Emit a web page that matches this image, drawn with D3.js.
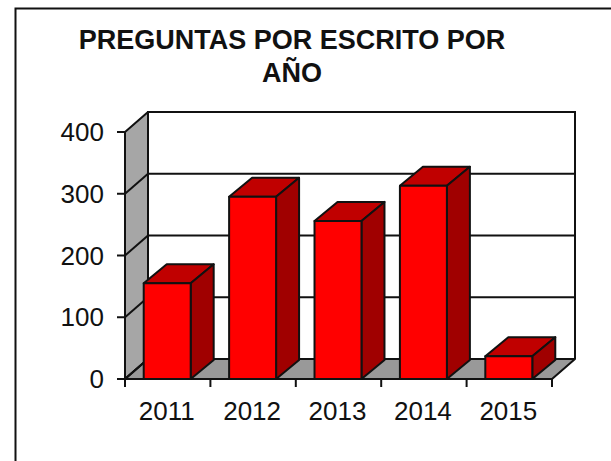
<!DOCTYPE html>
<html><head><meta charset="utf-8">
<script src="https://cdn.jsdelivr.net/npm/d3@7"></script>
<style>html,body{margin:0;padding:0;background:#fff}svg{display:block}text{font-family:"Liberation Sans",Arial,sans-serif;fill:#111}</style>
</head><body><svg id="c" width="611" height="461"></svg>
<script>
const categories = ["2011","2012","2013","2014","2015"];
const values = [155,295,256,313,37];
const yTicks = [0,100,200,300,400];
const titleLines = ["PREGUNTAS POR ESCRITO POR","AÑO"];

const svg = d3.select("#c");
const dx = 23, dy = 20, depthBarX = 23, depthBarY = 19;
const x = d3.scaleBand().domain(categories).range([125,552]);
const y = d3.scaleLinear().domain([0,400]).range([379,132]);
const line = "#111", sw = 2;
const poly = (pts,fill,w=sw) => svg.append("path").attr("d","M"+pts.map(p=>p.join(",")).join("L")+"Z")
  .attr("fill",fill).attr("stroke",line).attr("stroke-width",w).attr("stroke-linejoin","round");
const seg = (a,b,c,d,w=sw) => svg.append("line").attr("x1",a).attr("y1",b).attr("x2",c).attr("y2",d).attr("stroke",line).attr("stroke-width",w);

// frame
svg.append("path").attr("d","M15.5,461V8.5H611").attr("fill","none").attr("stroke","#111").attr("stroke-width",2);

// title
svg.append("g").selectAll("text").data(titleLines).join("text")
  .attr("x",292).attr("y",(d,i)=>49+i*33).attr("text-anchor","middle")
  .attr("font-size",27).attr("font-weight","bold").text(d=>d);

const [x0,x1] = x.range(), y0 = y(0), yT = y(400);
// walls
poly([[x0,y0],[x0,yT],[x0+dx,yT-dy],[x0+dx,y0-dy]],"#a6a6a6");
svg.append("path").attr("d",`M${x0+dx},${y0-dy}V${yT-dy}H${x1+dx}V${y0-dy}`).attr("fill","#fff").attr("stroke",line).attr("stroke-width",sw);
poly([[x0,y0],[x1,y0],[x1+dx,y0-dy],[x0+dx,y0-dy]],"#999999");

// gridlines and wall diagonals
yTicks.forEach(t=>{
  if(t>0 && t<400) seg(x0+dx,y(t)-dy,x1+dx,y(t)-dy);
  if(t<400) seg(x0,y(t),x0+dx,y(t)-dy);
});

// y axis
seg(x0,y0,x0,yT);
yTicks.forEach(t=>seg(x0-8,y(t),x0,y(t)));
svg.append("g").selectAll("text").data(yTicks).join("text")
  .attr("x",104).attr("y",d=>y(d)+9).attr("text-anchor","end").attr("font-size",26).text(d=>d);

// x axis
seg(x0-8,y0,x1,y0);
[...categories.map(c=>x(c)),x1].forEach(p=>seg(p,y0,p,y0+8));
svg.append("g").selectAll("text").data(categories).join("text")
  .attr("x",d=>x(d)+x.bandwidth()/2-1).attr("y",420).attr("text-anchor","middle").attr("font-size",26).text(d=>d);

// bars
const bw = x.bandwidth()*0.55;
categories.forEach((c,i)=>{
  const l = x(c)+(x.bandwidth()-bw)/2-0.5, r = l+bw, t = y(values[i]);
  poly([[l,t],[l+depthBarX,t-depthBarY],[r+depthBarX,t-depthBarY],[r,t]],"#c00000");
  poly([[r,t],[r+depthBarX,t-depthBarY],[r+depthBarX,y0-depthBarY],[r,y0]],"#a00000");
  poly([[l,t],[r,t],[r,y0],[l,y0]],"#ff0000");
});
</script></body></html>
